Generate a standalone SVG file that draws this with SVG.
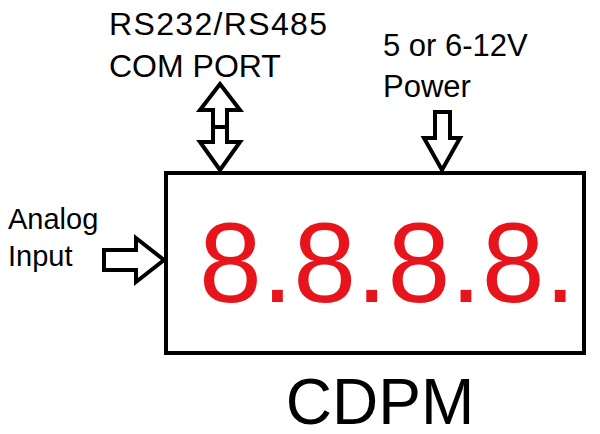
<svg xmlns="http://www.w3.org/2000/svg" width="600" height="434" viewBox="0 0 600 434">
<style>
.a{fill:#fff;stroke:#000;stroke-width:4;stroke-linejoin:miter}
.t{font-family:"Liberation Sans",Arial,sans-serif;fill:#000}
</style>
<rect width="600" height="434" fill="#fff"/>
<g id="display">
<rect x="166" y="173" width="418" height="180" fill="#fff" stroke="#000" stroke-width="4"/>
<text x="199" y="302" font-size="113" fill="#e8141b" font-family="Liberation Sans,Arial,sans-serif">8.8.8.8.</text>
</g>
<g id="label"><text class="t" x="380" y="424" font-size="64" text-anchor="middle">CDPM</text></g>
<g id="com"><text class="t" x="109" y="35" font-size="32" textLength="218">RS232/RS485</text><text class="t" x="109" y="77" font-size="32">COM PORT</text></g>
<g id="power"><text class="t" x="383" y="56" font-size="31">5 or 6-12V</text><text class="t" x="383" y="97" font-size="31">Power</text></g>
<g id="analog"><text class="t" x="8" y="229" font-size="29">Analog</text><text class="t" x="8" y="266" font-size="29">Input</text></g>
<g id="connectors">
<polygon class="a" points="220,84 240,110 227,110 227,127 213,127 213,110 200,110"/>
<polygon class="a" points="213,127 227,127 227,142 240,142 220,170 200,142 213,142"/>
<polygon class="a" points="435,112 450,112 450,138 460,138 442,170 424,138 435,138"/>
<polygon class="a" points="104,250 136,250 136,238 164,260 136,282 136,270 104,270"/>
</g>
</svg>
